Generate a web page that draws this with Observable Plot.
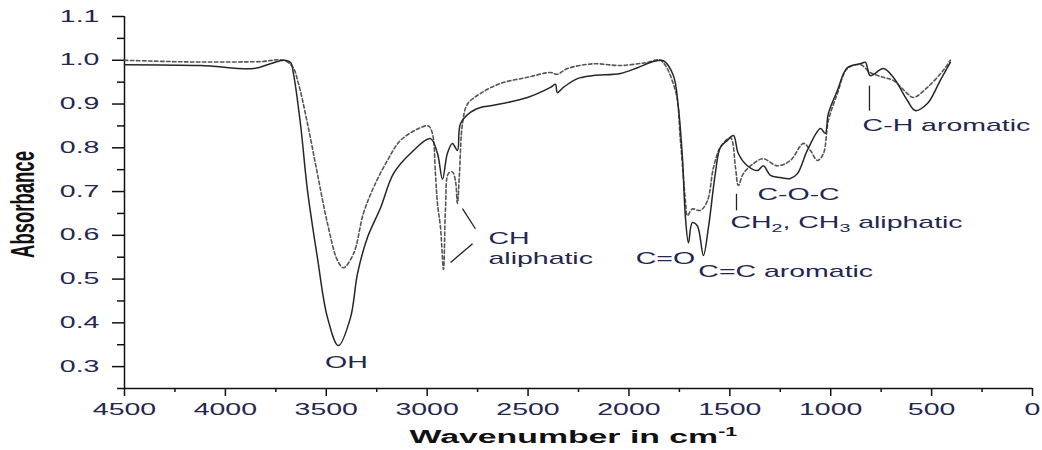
<!DOCTYPE html>
<html>
<head>
<meta charset="utf-8">
<script src="https://cdn.jsdelivr.net/npm/d3@7"></script>
<script src="https://cdn.jsdelivr.net/npm/@observablehq/plot@0.6"></script>
<style>
  html, body { margin: 0; padding: 0; background: #fff; }
  svg { display: block; }
</style>
</head>
<body>
<script>
// ---- Data ----
const wnSolid = [4500, 4123, 3861, 3777, 3712, 3677, 3663, 3628, 3593, 3544, 3494, 3440, 3380, 3345, 3296, 3231, 3167, 3083, 2984, 2949, 2924, 2900, 2875, 2850, 2835, 2786, 2736, 2672, 2503, 2389, 2364, 2355, 2325, 2255, 2176, 2042, 1958, 1879, 1829, 1780, 1755, 1735, 1720, 1705, 1686, 1661, 1631, 1606, 1572, 1547, 1512, 1482, 1458, 1413, 1363, 1334, 1299, 1250, 1200, 1165, 1116, 1051, 1027, 1012, 967, 918, 853, 828, 804, 739, 690, 620, 581, 521, 457, 407];
const absSolid = [0.990, 0.988, 0.981, 0.992, 1.000, 0.995, 0.970, 0.855, 0.702, 0.549, 0.412, 0.348, 0.412, 0.513, 0.595, 0.663, 0.741, 0.787, 0.821, 0.787, 0.728, 0.787, 0.810, 0.794, 0.855, 0.881, 0.892, 0.897, 0.915, 0.938, 0.945, 0.926, 0.938, 0.958, 0.965, 0.970, 0.983, 0.997, 0.999, 0.965, 0.892, 0.778, 0.641, 0.583, 0.629, 0.622, 0.554, 0.618, 0.741, 0.801, 0.817, 0.828, 0.787, 0.759, 0.748, 0.759, 0.737, 0.732, 0.730, 0.741, 0.794, 0.844, 0.833, 0.878, 0.931, 0.983, 0.992, 0.995, 0.965, 0.981, 0.961, 0.908, 0.885, 0.901, 0.954, 0.995];

const wnDotted = [4500, 4272, 4123, 3826, 3712, 3667, 3638, 3593, 3544, 3494, 3444, 3415, 3365, 3316, 3266, 3197, 3132, 3033, 2994, 2974, 2959, 2949, 2934, 2919, 2909, 2895, 2875, 2860, 2850, 2840, 2825, 2800, 2736, 2637, 2503, 2389, 2355, 2305, 2176, 2042, 1909, 1844, 1770, 1745, 1720, 1710, 1686, 1646, 1611, 1581, 1547, 1497, 1472, 1458, 1433, 1383, 1334, 1265, 1200, 1135, 1101, 1066, 1036, 1012, 967, 918, 853, 804, 739, 690, 620, 590, 521, 442, 407];
const absDotted = [1.000, 0.997, 0.996, 0.997, 1.000, 0.985, 0.947, 0.855, 0.741, 0.627, 0.542, 0.526, 0.558, 0.650, 0.709, 0.771, 0.817, 0.846, 0.850, 0.833, 0.741, 0.673, 0.618, 0.522, 0.663, 0.741, 0.745, 0.725, 0.673, 0.741, 0.855, 0.900, 0.924, 0.947, 0.961, 0.972, 0.968, 0.981, 0.992, 0.988, 0.995, 1.000, 0.931, 0.817, 0.679, 0.645, 0.660, 0.657, 0.679, 0.755, 0.801, 0.823, 0.755, 0.714, 0.741, 0.764, 0.775, 0.759, 0.771, 0.810, 0.794, 0.771, 0.787, 0.862, 0.924, 0.981, 0.990, 0.972, 0.961, 0.954, 0.924, 0.915, 0.938, 0.977, 1.000];

const xMajorTicks = [4500, 4000, 3500, 3000, 2500, 2000, 1500, 1000, 500, 0];
const xMinorTicks = [4250, 3750, 3250, 2750, 2250, 1750, 1250, 750, 250];
const yMajorTicks = [0.3, 0.4, 0.5, 0.6, 0.7, 0.8, 0.9, 1.0, 1.1];
const yMinorTicks = [0.25, 0.35, 0.45, 0.55, 0.65, 0.75, 0.85, 0.95, 1.05];

const noteText   = ["OH", "CH", "aliphatic", "C=O", "C=C aromatic", "CH2, CH3 aliphatic", "C-O-C", "C-H aromatic"];
const noteWn     = [3400, 2696, 2696, 1819, 1656, 1497, 1363, 842];
const noteAbs    = [0.309, 0.593, 0.547, 0.547, 0.517, 0.629, 0.693, 0.849];
const noteAnchor = ["middle", "start", "start", "middle", "start", "start", "start", "start"];

const leaderWn1  = [2825, 2884, 1467, 808];
const leaderAbs1 = [0.661, 0.538, 0.695, 0.942];
const leaderWn2  = [2761, 2775, 1467, 808];
const leaderAbs2 = [0.615, 0.581, 0.657, 0.885];

// ---- Tables built from the arrays ----
const solid = wnSolid.map((w, i) => ({wn: w, abs: absSolid[i]}));
const dotted = wnDotted.map((w, i) => ({wn: w, abs: absDotted[i]}));
const notes = noteText.map((t, i) => ({text: t, wn: noteWn[i], abs: noteAbs[i], anchor: noteAnchor[i]}));
const leaders = leaderWn1.map((w, i) => ({x1: w, y1: leaderAbs1[i], x2: leaderWn2[i], y2: leaderAbs2[i]}));

const NAVY = "#23264f";
const FONT = "'Liberation Sans', Arial, Helvetica, sans-serif";

const chart = Plot.plot({
  width: 1042,
  height: 450,
  marginLeft: 124,
  marginRight: 10,
  marginTop: 16,
  marginBottom: 62,
  style: {background: "white", fontFamily: FONT},
  x: {domain: [4500, 0], label: null},
  y: {domain: [0.25, 1.1], label: null},
  marks: [
    Plot.ruleX([4500], {y1: 0.25, y2: 1.1, stroke: "#111", strokeWidth: 1.5}),
    Plot.ruleY([0.25], {x1: 4500, x2: 0, stroke: "#111", strokeWidth: 1.5}),
    Plot.axisY({ticks: yMajorTicks, tickSize: 12, tickPadding: 13, tickFormat: d3.format(".1f"), fontSize: 16, stroke: "#111", fill: NAVY, strokeWidth: 1.5, label: null}),
    Plot.axisY({ticks: yMinorTicks, tickSize: 7, tickPadding: 0, tickFormat: () => "", stroke: "#111", strokeWidth: 1.5, label: null}),
    Plot.axisX({ticks: xMajorTicks, tickSize: 8, tickPadding: 7, tickFormat: d3.format("d"), fontSize: 16, stroke: "#111", fill: NAVY, strokeWidth: 1.5, label: null}),
    Plot.axisX({ticks: xMinorTicks, tickSize: 4, tickPadding: 0, tickFormat: () => "", stroke: "#111", strokeWidth: 1.5, label: null}),
    Plot.line(dotted, {x: "wn", y: "abs", stroke: "#555", strokeWidth: 1.6, strokeDasharray: "3.5,2.5", curve: "catmull-rom"}),
    Plot.line(solid, {x: "wn", y: "abs", stroke: "#262626", strokeWidth: 1.5, curve: "catmull-rom"}),
    Plot.link(leaders, {x1: "x1", y1: "y1", x2: "x2", y2: "y2", stroke: "#222", strokeWidth: 1.3}),
    Plot.text(notes.filter(d => d.anchor === "middle"), {x: "wn", y: "abs", text: "text", textAnchor: "middle", fontSize: 16, fill: NAVY}),
    Plot.text(notes.filter(d => d.anchor === "start"), {x: "wn", y: "abs", text: "text", textAnchor: "start", fontSize: 16, fill: NAVY}),
    Plot.text(["Absorbance"], {frameAnchor: "left", textAnchor: "middle", lineAnchor: "middle", dx: -101, dy: 2, rotate: -90, fontSize: 18.5, fontWeight: "bold", fill: "#111"}),
    Plot.text(["Wavenumber in cm-1"], {frameAnchor: "bottom", textAnchor: "middle", lineAnchor: "middle", dx: -5, dy: 48, fontSize: 19, fontWeight: "bold", fill: "#111"})
  ]
});

document.body.appendChild(chart);

const NS = "http://www.w3.org/2000/svg";
function setSpans(t, parts) {
  while (t.firstChild) t.removeChild(t.firstChild);
  for (const [s, kind] of parts) {
    const sp = document.createElementNS(NS, "tspan");
    sp.textContent = s;
    if (kind === "sub") { sp.setAttribute("font-size", "11"); sp.setAttribute("dy", "4"); }
    if (kind === "sup") { sp.setAttribute("font-size", "12"); sp.setAttribute("dy", "-7"); }
    if (kind === "back-sub") { sp.setAttribute("dy", "-4"); }
    if (kind === "back-sup") { sp.setAttribute("dy", "7"); }
    t.appendChild(sp);
  }
}
for (const t of chart.querySelectorAll("text")) {
  if (t.textContent === "CH2, CH3 aliphatic") {
    setSpans(t, [["CH", ""], ["2", "sub"], [", CH", "back-sub"], ["3", "sub"], [" aliphatic", "back-sub"]]);
  } else if (t.textContent === "Wavenumber in cm-1") {
    setSpans(t, [["Wavenumber in cm", ""], ["-1", "sup"]]);
  }
}

// The reference figure is stretched horizontally: stretch every text the same way
const K = 1.78;
const svgRect = chart.getBoundingClientRect();
for (const t of Array.from(chart.querySelectorAll("text"))) {
  if (!t.textContent.trim()) continue;
  const r = t.getBoundingClientRect();
  const anchor = getComputedStyle(t).textAnchor;
  const rotated = (t.getAttribute("transform") || "").includes("rotate");
  let px;
  if (rotated || anchor === "middle") px = (r.left + r.right) / 2;
  else if (anchor === "end") px = r.right;
  else px = r.left;
  px -= svgRect.left;
  const m = t.parentNode.getCTM();
  const p = (px - m.e) / m.a;
  const g = document.createElementNS(NS, "g");
  g.setAttribute("transform", `translate(${p},0) scale(${K},1) translate(${-p},0)`);
  t.parentNode.insertBefore(g, t);
  g.appendChild(t);
}
</script>
</body>
</html>
